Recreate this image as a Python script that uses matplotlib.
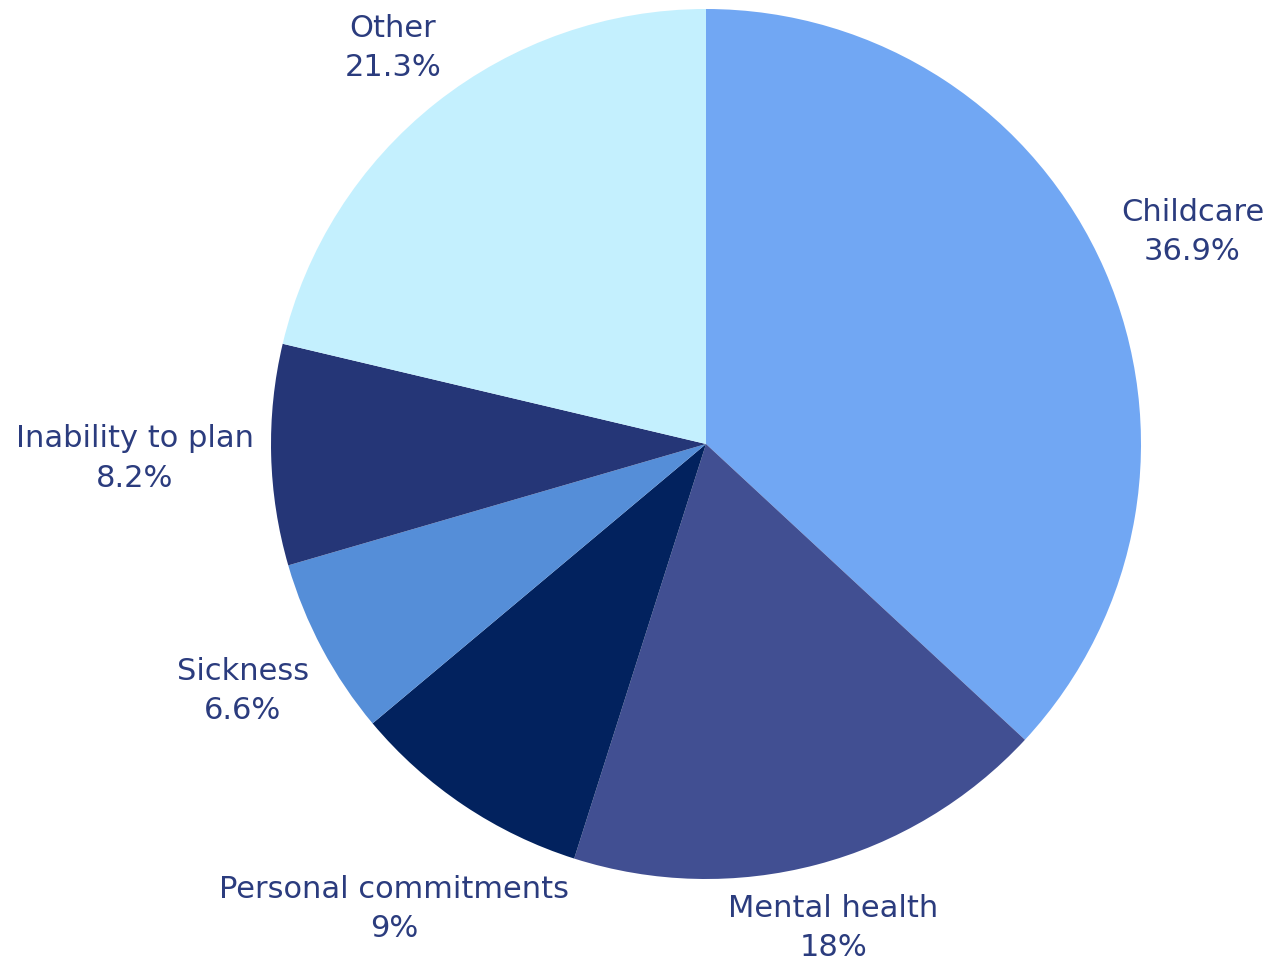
import numpy as np
import matplotlib.pyplot as plt

categories = ["Childcare", "Mental health", "Personal commitments", "Sickness",
              "Inability to plan", "Other"]
shares = [36.9, 18, 9, 6.6, 8.2, 21.3]
value_text = ["36.9%", "18%", "9%", "6.6%", "8.2%", "21.3%"]
colors = ["#71a7f3", "#414f92", "#02225e", "#558ed8", "#253677", "#c4f0fe"]

# how far out each label sits, as a multiple of the radius
label_dist = [1.22, 1.15, 1.287, 1.207, 1.313, 1.16]

plt.rcParams['font.family'] = ['DejaVu Sans']

W, H = 1272, 963
fig = plt.figure(figsize=(W / 100, H / 100), dpi=100)
cx, cy, R = 706, 444, 435
ax = fig.add_axes([(cx - R) / W, (H - cy - R) / H, 2 * R / W, 2 * R / H])

wedges, _ = ax.pie(shares, colors=colors, startangle=90, counterclock=False,
                   radius=1, wedgeprops=dict(linewidth=0))
ax.set_xlim(-1, 1)
ax.set_ylim(-1, 1)
ax.set_aspect('equal')
ax.axis('off')

for w, name, txt, d in zip(wedges, categories, value_text, label_dist):
    mid = np.deg2rad((w.theta1 + w.theta2) / 2)
    ax.text(d * np.cos(mid), d * np.sin(mid), name + "\n" + txt,
            ha='center', va='center', fontsize=22, color='#2b3c7e',
            linespacing=1.45, clip_on=False)

fig.savefig("out.png", dpi=100)
